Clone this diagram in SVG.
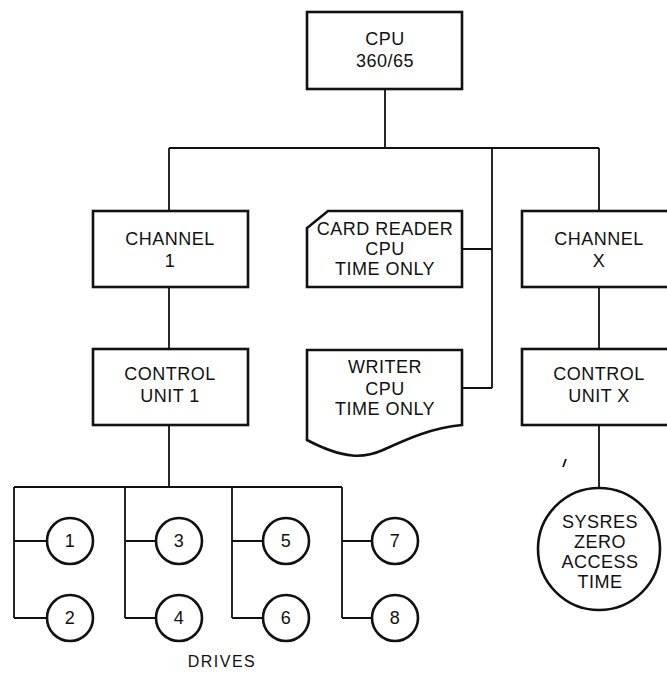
<svg xmlns="http://www.w3.org/2000/svg" width="667" height="673" viewBox="0 0 667 673">
<style>
.box{fill:#fff;stroke:#111;stroke-width:2.6}
.ln{fill:none;stroke:#111;stroke-width:1.8}
text{font-family:"Liberation Sans",Arial,sans-serif;font-size:18px;fill:#111;text-anchor:middle;letter-spacing:0.5px}
</style>
<rect width="667" height="673" fill="#fff"/>
<g id="connectors">
<path class="ln" d="M385 89V148M169 148H599M169 148V211M599 148V211M492 148V388M463 249H492M463 388H492M169 287V349M599 287V349M169 425V487M599 425V488"/>
<path class="ln" d="M14 487H342M14 487V618M125 487V618M232 487V618M342 487V618"/>
<path class="ln" d="M14 541H47M14 618H47M125 541H156M125 618H156M232 541H263M232 618H263M342 541H372M342 618H372"/>
<path class="ln" d="M566 459L563 467" stroke-width="1"/>
</g>
<g id="cpu"><rect class="box" x="307" y="12" width="155" height="77"/><text x="385" y="45">CPU</text><text x="385" y="67">360/65</text></g>
<g id="channel1"><rect class="box" x="93" y="211" width="155" height="76"/><text x="170" y="245">CHANNEL</text><text x="170" y="267">1</text></g>
<g id="cu1"><rect class="box" x="93" y="349" width="155" height="76"/><text x="170" y="380">CONTROL</text><text x="170" y="402">UNIT 1</text></g>
<g id="cardreader"><path class="box" d="M328 211H462V287H307V228Z"/><text x="385" y="235">CARD READER</text><text x="385" y="255">CPU</text><text x="385" y="275">TIME ONLY</text></g>
<g id="writer"><path class="box" d="M307 350H462V425C430 428 405 440 383 450C365 458 345 460 307 440Z"/><text x="385" y="373">WRITER</text><text x="385" y="395">CPU</text><text x="385" y="415">TIME ONLY</text></g>
<g id="channelx"><rect class="box" x="522" y="211" width="155" height="76"/><text x="599" y="245">CHANNEL</text><text x="599" y="267">X</text></g>
<g id="cux"><rect class="box" x="522" y="349" width="155" height="76"/><text x="599" y="380">CONTROL</text><text x="599" y="402">UNIT X</text></g>
<g id="sysres"><circle class="box" cx="599" cy="549" r="61"/><text x="600" y="528">SYSRES</text><text x="600" y="548">ZERO</text><text x="600" y="568">ACCESS</text><text x="600" y="588">TIME</text></g>
<g id="d1"><circle class="box" cx="70" cy="541" r="23"/><text x="70" y="547">1</text></g>
<g id="d2"><circle class="box" cx="70" cy="618" r="23"/><text x="70" y="624">2</text></g>
<g id="d3"><circle class="box" cx="179" cy="541" r="23"/><text x="179" y="547">3</text></g>
<g id="d4"><circle class="box" cx="179" cy="618" r="23"/><text x="179" y="624">4</text></g>
<g id="d5"><circle class="box" cx="286" cy="541" r="23"/><text x="286" y="547">5</text></g>
<g id="d6"><circle class="box" cx="286" cy="618" r="23"/><text x="286" y="624">6</text></g>
<g id="d7"><circle class="box" cx="395" cy="541" r="23"/><text x="395" y="547">7</text></g>
<g id="d8"><circle class="box" cx="395" cy="618" r="23"/><text x="395" y="624">8</text></g>
<text x="222" y="667" style="font-size:16px;letter-spacing:1.5px">DRIVES</text>
</svg>
